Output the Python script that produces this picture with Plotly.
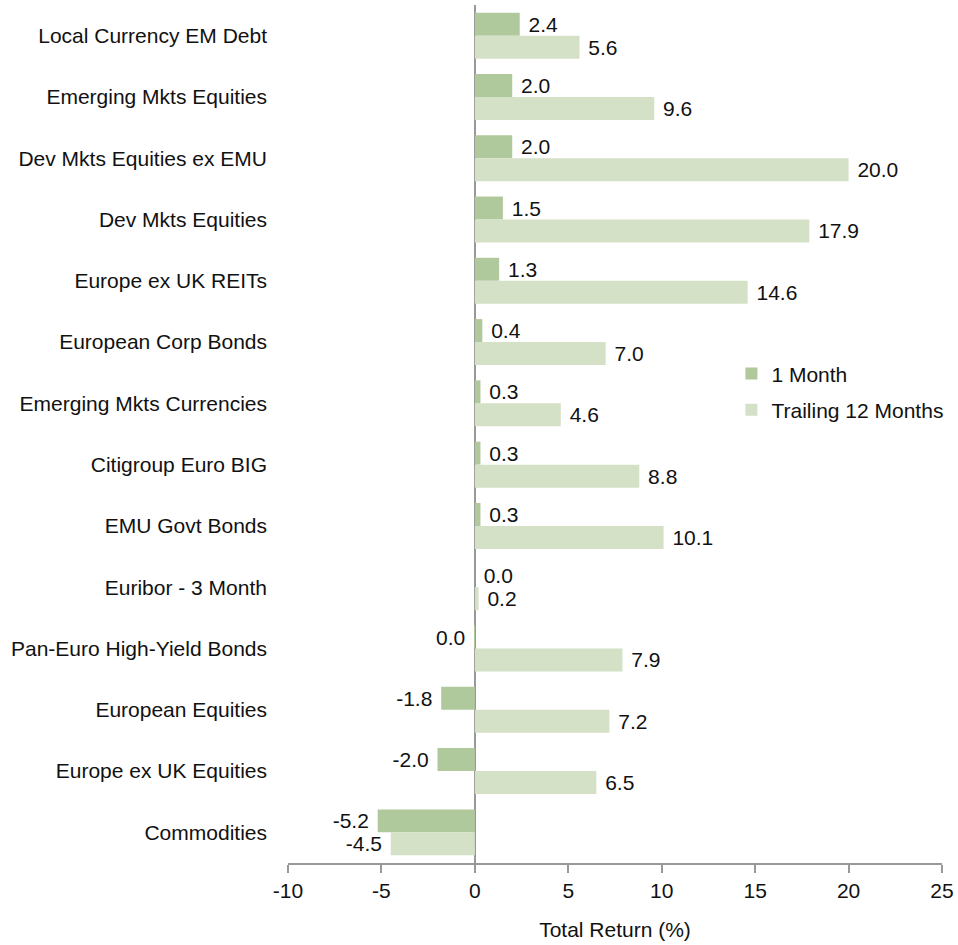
import plotly.graph_objects as go

categories = [
    "Local Currency EM Debt", "Emerging Mkts Equities", "Dev Mkts Equities ex EMU",
    "Dev Mkts Equities", "Europe ex UK REITs", "European Corp Bonds",
    "Emerging Mkts Currencies", "Citigroup Euro BIG", "EMU Govt Bonds",
    "Euribor - 3 Month", "Pan-Euro High-Yield Bonds", "European Equities",
    "Europe ex UK Equities", "Commodities",
]
one_month = [2.4, 2.0, 2.0, 1.5, 1.3, 0.4, 0.3, 0.3, 0.3, 0.0, -0.02, -1.8, -2.0, -5.2]
trailing_12m = [5.6, 9.6, 20.0, 17.9, 14.6, 7.0, 4.6, 8.8, 10.1, 0.2, 7.9, 7.2, 6.5, -4.5]
x_ticks = [-10, -5, 0, 5, 10, 15, 20, 25]

NB = "\u00a0"

def fmt(v):
    s = "0.0" if abs(v) < 0.05 else f"{v:.1f}"
    return (s + NB) if v < 0 else (NB + s)

FONT = "Liberation Sans, Arial, sans-serif"
FS = 21
DARK = "#afc89c"
LIGHT = "#d4e1c6"

fig = go.Figure()
fig.add_trace(go.Bar(
    y=categories, x=one_month, orientation="h", name="1 Month",
    marker=dict(color=DARK, line=dict(width=0)),
    text=[fmt(v) for v in one_month], textposition="outside",
    textfont=dict(size=FS, color="#111"), constraintext="none", cliponaxis=False,
    legendgroup="a",
))
fig.add_trace(go.Bar(
    y=categories, x=trailing_12m, orientation="h", name="Trailing 12 Months",
    marker=dict(color=LIGHT, line=dict(width=0)),
    text=[fmt(v) for v in trailing_12m], textposition="outside",
    textfont=dict(size=FS, color="#111"), constraintext="none", cliponaxis=False,
    legendgroup="b",
))

fig.update_layout(
    width=958, height=945,
    margin=dict(l=288, r=16, t=5, b=82),
    paper_bgcolor="white", plot_bgcolor="white",
    font=dict(family=FONT, size=FS, color="#111"),
    barmode="group", bargap=0.25, bargroupgap=0,
    showlegend=True,
    legend=dict(x=0.678, y=0.594, xanchor="left", yanchor="top",
                font=dict(size=FS), tracegroupgap=6, traceorder="grouped",
                itemwidth=30, bgcolor="rgba(0,0,0,0)"),
    xaxis=dict(
        range=[-10, 25], tickvals=x_ticks, ticktext=[str(t) for t in x_ticks],
        showgrid=False, zeroline=True, zerolinecolor="#999", zerolinewidth=2,
        showline=True, linecolor="#999", linewidth=1.5,
        ticks="outside", ticklen=8, tickcolor="#999", tickwidth=1.5,
        tickfont=dict(size=FS),
        title=dict(text="Total Return (%)", font=dict(size=FS), standoff=21),
    ),
    yaxis=dict(
        autorange="reversed", showgrid=False, showline=False, ticks="",
        ticklabelstandoff=20, tickfont=dict(size=FS),
    ),
)

fig.write_html("out.html")
